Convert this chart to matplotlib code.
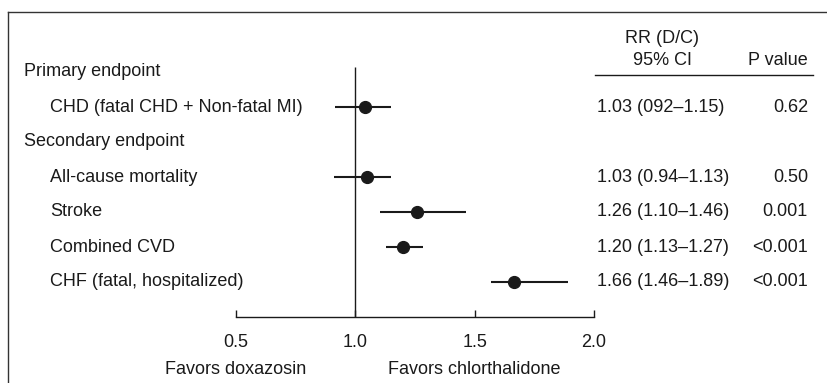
import matplotlib.pyplot as plt
from matplotlib.lines import Line2D

plt.rcParams["font.family"] = ["Liberation Sans", "DejaVu Sans"]

# rows, top to bottom (row index = position)
labels = ["Primary endpoint", "CHD (fatal CHD + Non-fatal MI)",
          "Secondary endpoint", "All-cause mortality", "Stroke",
          "Combined CVD", "CHF (fatal, hospitalized)"]
indent = [False, True, False, True, True, True, True]

# drawn estimates / interval ends (as plotted)
est_rows = [1, 3, 4, 5, 6]
rr = [1.04, 1.05, 1.26, 1.20, 1.665]
lo = [0.915, 0.91, 1.105, 1.13, 1.57]
hi = [1.15, 1.15, 1.465, 1.285, 1.89]

# table text
ci_text = ["1.03 (092\u20131.15)", "1.03 (0.94\u20131.13)", "1.26 (1.10\u20131.46)",
           "1.20 (1.13\u20131.27)", "1.66 (1.46\u20131.89)"]
p_text = ["0.62", "0.50", "0.001", "<0.001", "<0.001"]

xticks = [0.5, 1.0, 1.5, 2.0]
xticklabels = ["0.5", "1.0", "1.5", "2.0"]

W, H = 827, 383
fig = plt.figure(figsize=(W / 100, H / 100), dpi=100)
ax = fig.add_axes([0, 0, 1, 1])
ax.patch.set_alpha(0)

# map data to pixels: 0.5 -> 236 px, 2.0 -> 594 px; row i -> 72 + 35 i px
sx = (594 - 236) / 1.5
ax.set_xlim(0.5 - 236 / sx, 2.0 + (W - 594) / sx)
ax.set_ylim((H - 72) / 35, -72 / 35)

fs = 13
ink = "#1a1a1a"

for s in ["top", "right", "left"]:
    ax.spines[s].set_visible(False)
ax.spines["bottom"].set_position(("data", 7))
ax.spines["bottom"].set_bounds(0.5, 2.0)
ax.spines["bottom"].set_linewidth(1.0)
ax.spines["bottom"].set_color(ink)
ax.set_yticks([])
ax.set_xticks(xticks)
ax.set_xticklabels(xticklabels, fontsize=fs, color=ink)
ax.tick_params(axis="x", direction="in", length=5, width=1.0, pad=12, color=ink)

ax.vlines(1.0, -0.15, 7, color=ink, lw=1.0)

for r, m, a, b in zip(est_rows, rr, lo, hi):
    ax.plot([a, b], [r, r], color=ink, lw=1.5, solid_capstyle="butt")
    ax.plot(m, r, "o", color=ink, ms=8.5)

tr = ax.get_yaxis_transform()
for i, (lab, ind) in enumerate(zip(labels, indent)):
    ax.text(0.0605 if ind else 0.029, i, lab, transform=tr, fontsize=fs,
            va="center", ha="left", color=ink)

for r, c, p in zip(est_rows, ci_text, p_text):
    ax.text(0.722, r, c, transform=tr, fontsize=fs, va="center", ha="left", color=ink)
    ax.text(0.977, r, p, transform=tr, fontsize=fs, va="center", ha="right", color=ink)

ax.text(0.801, -0.97, "RR (D/C)", transform=tr, fontsize=fs, va="center", ha="center", color=ink)
ax.text(0.801, -0.34, "95% CI", transform=tr, fontsize=fs, va="center", ha="center", color=ink)
ax.text(0.977, -0.34, "P value", transform=tr, fontsize=fs, va="center", ha="right", color=ink)
ax.plot([0.719, 0.983], [0.086, 0.086], transform=tr, color=ink, lw=1.0)

ax.text(0.5, 8.51, "Favors doxazosin", fontsize=fs, va="center", ha="center", color=ink)
ax.text(1.5, 8.51, "Favors chlorthalidone", fontsize=fs, va="center", ha="center", color=ink)

# frame (only left and top edges visible in the crop)
fig.add_artist(Line2D([8 / W, 8 / W], [0, 1 - 12 / H], color="#333333", lw=1.0))
fig.add_artist(Line2D([8 / W, 1], [1 - 12 / H, 1 - 12 / H], color="#333333", lw=1.0))

fig.savefig("out.png", dpi=100)
